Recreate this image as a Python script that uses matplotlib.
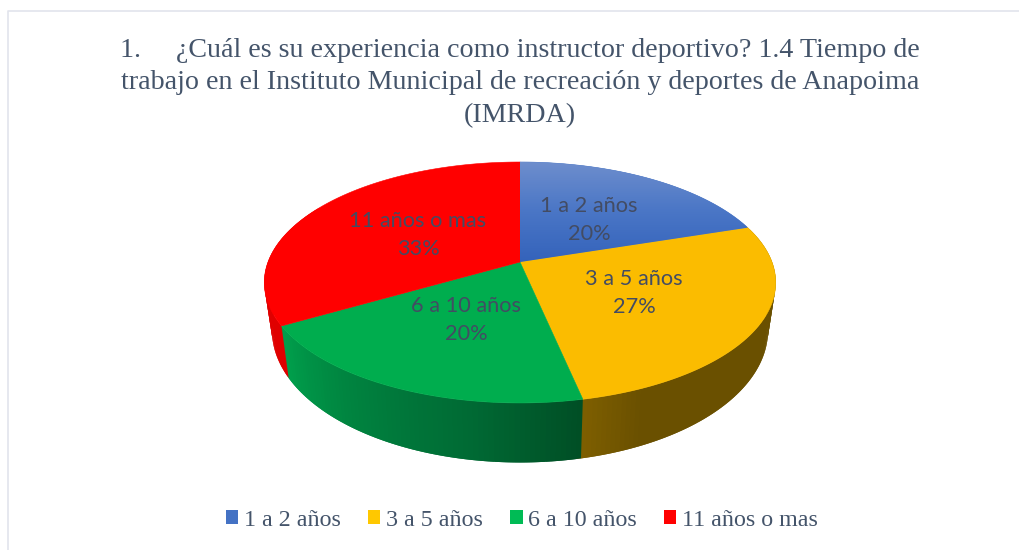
import numpy as np
import matplotlib
matplotlib.use("Agg")
import matplotlib.pyplot as plt
from matplotlib.patches import Polygon, Patch
from matplotlib.collections import PolyCollection
from matplotlib.colors import LinearSegmentedColormap, to_rgb

categories = ["1 a 2 años", "3 a 5 años", "6 a 10 años", "11 años o mas"]
counts = [3, 4, 3, 5]
percent_labels = ["20%", "27%", "20%", "33%"]
title = ("1.     ¿Cuál es su experiencia como instructor deportivo? 1.4 Tiempo de\n"
         "trabajo en el Instituto Municipal de recreación y deportes de Anapoima\n"
         "(IMRDA)")

TOP_COLORS = ["#4472C4", "#FBBC00", "#00AD4E", "#FF0000"]
LEGEND_COLORS = ["#4472C4", "#FFC800", "#00BB55", "#FF0000"]
TEXT = "#44546A"
LABEL = "#434C63"

fig = plt.figure(figsize=(10.2, 5.5), dpi=100, facecolor="white")
ax = fig.add_axes([0, 0, 1, 1])
ax.set_xlim(0, 1020)
ax.set_ylim(550, 0)
ax.axis("off")

# chart frame
ax.plot([8.5, 8.5, 1020], [550, 10.5, 10.5], color="#E2E4EC", lw=1.2, zorder=1)

CX, CY, R, A, B = 520, 262, 252, 117, 0.17


def top_xy(deg):
    t = np.radians(np.asarray(deg, float))
    u, v = np.sin(t), np.cos(t)
    d = 1 + B * v
    return CX + R * u / d, CY - A * v / d


def bottom_xy(deg):
    x, y = top_xy(deg)
    return CX + 0.97 * (x - CX), CY + 46 + 1.096 * (y - CY)


fractions = np.array(counts, float) / sum(counts)
edges = np.concatenate([[0], np.cumsum(fractions) * 360])


def wall_color(theta):
    e1, e2, e3 = edges[1], edges[2], edges[3]
    if theta < e2:
        k = np.interp(theta, [e1, e2 - 12, e2], [0, 0, 1])
        a, b = np.array(to_rgb("#6A5000")), np.array(to_rgb("#7E5F00"))
        return a + (b - a) * k
    if theta < e3:
        k = (theta - e2) / (e3 - e2)
        stops = ["#004E25", "#006A34", "#00823F", "#00A04C"]
        pts = [0, 0.3, 0.65, 1]
        c = np.array([to_rgb(s) for s in stops])
        return np.array([np.interp(k, pts, c[:, i]) for i in range(3)])
    return np.array(to_rgb("#E00000"))


# side wall: each strip runs under the next one, so no seams appear between them
thetas = np.arange(edges[1], 300, 1.0)
quads, cols = [], []
for t0, t1 in zip(thetas[:-1], thetas[1:]):
    over = t1 + 1.0
    x0, y0 = top_xy(t0); x1, y1 = top_xy(over)
    x2, y2 = bottom_xy(over); x3, y3 = bottom_xy(t0)
    quads.append([(x0, y0), (x1, y1), (x2, y2), (x3, y3)])
    cols.append(wall_color((t0 + t1) / 2))
ax.add_collection(PolyCollection(quads, facecolors=cols, edgecolors="none", zorder=2))

# top faces
blue_cmap = LinearSegmentedColormap.from_list("b", ["#6E8ECD", "#4A76C6", "#3463BB"])
for i, c in enumerate(TOP_COLORS):
    ang = np.linspace(edges[i], edges[i + 1], 150)
    xs, ys = top_xy(ang)
    pts = np.column_stack([np.r_[CX, xs], np.r_[CY, ys]])
    poly = Polygon(pts, closed=True, facecolor=c, edgecolor=c, lw=0.4, zorder=3)
    ax.add_patch(poly)
    if i == 0:
        im = ax.imshow(np.linspace(0, 1, 100)[:, None], cmap=blue_cmap, aspect="auto",
                       extent=(CX, 750, 262, 161), zorder=3.5)
        im.set_clip_path(poly)
ax.set_xlim(0, 1020)
ax.set_ylim(550, 0)

# data labels
label_pos = [(589, 220), (634, 293), (466, 320), (418, 235)]
for name, pct, (x, y) in zip(categories, percent_labels, label_pos):
    ax.text(x, y, f"{name}\n{pct}", ha="center", va="center", family="Lato",
            fontsize=15.7, color=LABEL, linespacing=1.44, zorder=5)

ax.text(520, 83, title, ha="center", va="center", family="Liberation Serif",
        fontsize=20.2, color=TEXT, linespacing=1.41, zorder=5)

handles = [Patch(facecolor=c, edgecolor="none") for c in LEGEND_COLORS]
ax.legend(handles, categories, ncol=4, loc="center", bbox_to_anchor=(522 / 1020, 1 - 520 / 550),
          frameon=False, prop={"family": "Liberation Serif", "size": 17.3}, labelcolor=TEXT,
          handlelength=0.5, handleheight=0.5, handletextpad=0.22, columnspacing=1.16,
          borderpad=0, borderaxespad=0)

fig.savefig("out.png", dpi=100, facecolor="white")
